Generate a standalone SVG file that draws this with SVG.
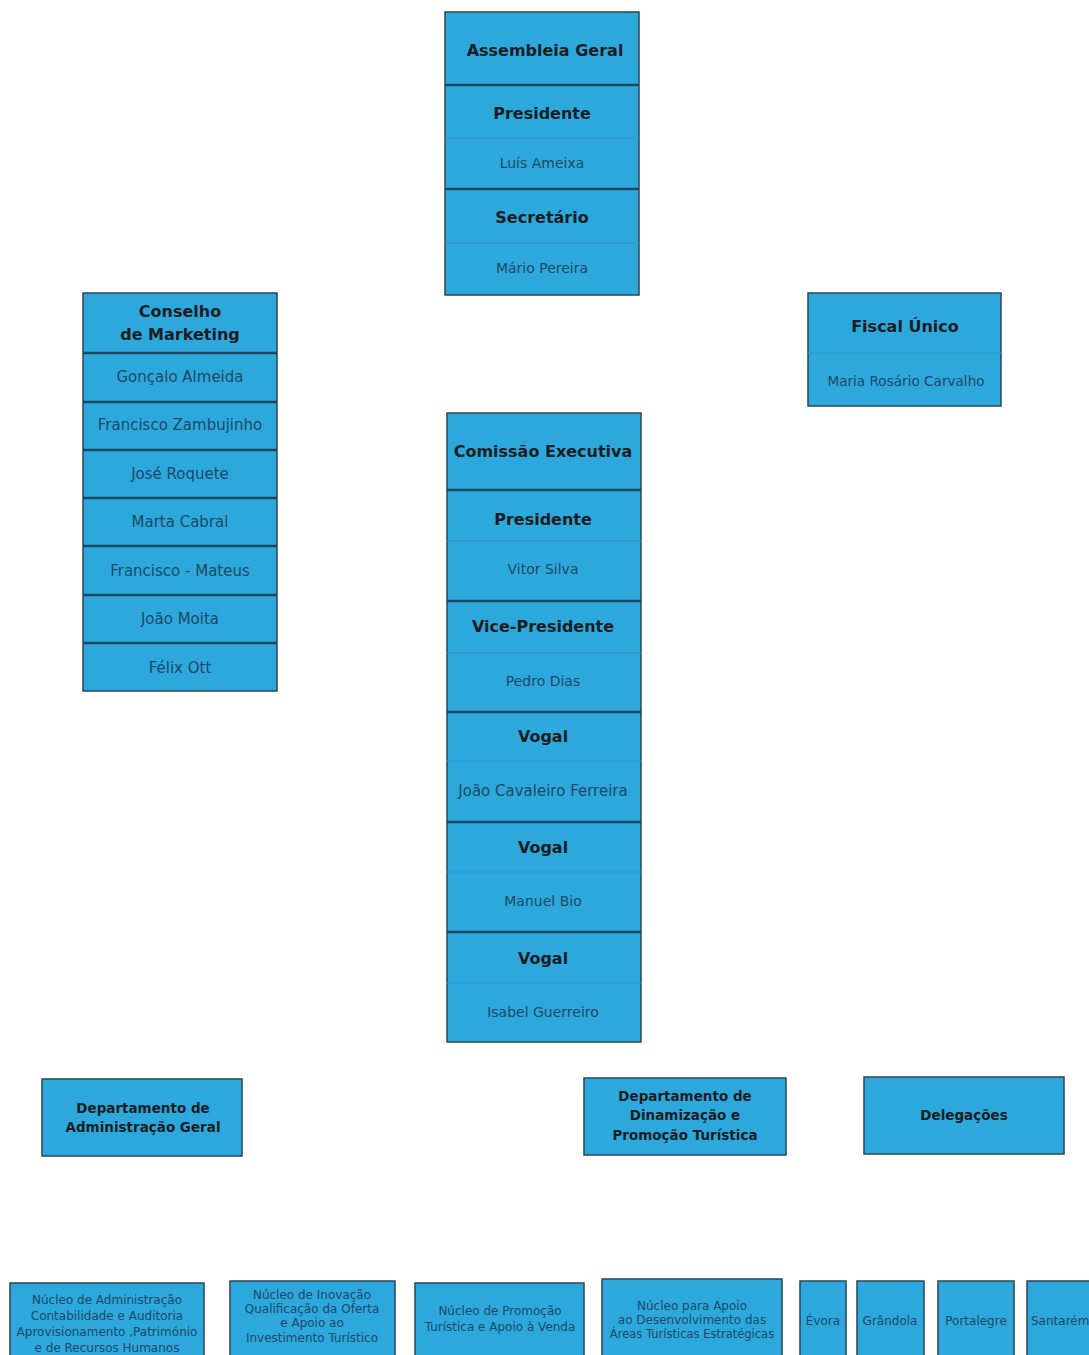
<svg xmlns="http://www.w3.org/2000/svg" width="1089" height="1355" viewBox="0 0 1089 1355">
<style>
.box{fill:#2ca8dc;stroke:#2b4656;stroke-width:1.5}
.thick{stroke:#1d4863;stroke-width:2.5}
.thin{stroke:#3b92bf;stroke-width:1}
.t{font-family:"DejaVu Sans","Liberation Sans",sans-serif;font-weight:bold;fill:#1b1d22;text-anchor:middle;dominant-baseline:central}
.t16{font-size:16px}
.t13{font-size:13.5px}
.n{font-family:"DejaVu Sans","Liberation Sans",sans-serif;fill:#1d4866;text-anchor:middle;dominant-baseline:central;font-size:15px}
.s{font-family:"DejaVu Sans","Liberation Sans",sans-serif;fill:#1d4866;text-anchor:middle;dominant-baseline:central;font-size:12px}
</style>
<rect width="1089" height="1355" fill="#ffffff"/>
<g id="connectors"></g>

<g id="assembleia">
<rect class="box" x="445" y="12" width="194" height="283"/>
<line class="thick" x1="445" y1="85" x2="639" y2="85"/>
<line class="thin" x1="445" y1="138" x2="639" y2="138"/>
<line class="thick" x1="445" y1="189" x2="639" y2="189"/>
<line class="thin" x1="445" y1="243" x2="639" y2="243"/>
<text class="t t16" x="545" y="50">Assembleia Geral</text>
<text class="t t16" x="542" y="113">Presidente</text>
<text class="n" x="542" y="163" style="font-size:14px">Luís Ameixa</text>
<text class="t t16" x="542" y="217">Secretário</text>
<text class="n" x="542" y="268" style="font-size:14px">Mário Pereira</text>
</g>

<g id="conselho">
<rect class="box" x="83" y="293" width="194" height="398"/>
<line class="thick" x1="83" y1="353" x2="277" y2="353"/>
<line class="thick" x1="83" y1="402" x2="277" y2="402"/>
<line class="thick" x1="83" y1="450" x2="277" y2="450"/>
<line class="thick" x1="83" y1="498" x2="277" y2="498"/>
<line class="thick" x1="83" y1="546" x2="277" y2="546"/>
<line class="thick" x1="83" y1="595" x2="277" y2="595"/>
<line class="thick" x1="83" y1="643" x2="277" y2="643"/>
<text class="t t16" x="180" y="311">Conselho</text>
<text class="t t16" x="180" y="334">de Marketing</text>
<text class="n" x="180" y="377">Gonçalo Almeida</text>
<text class="n" x="180" y="425">Francisco Zambujinho</text>
<text class="n" x="180" y="474">José Roquete</text>
<text class="n" x="180" y="522">Marta Cabral</text>
<text class="n" x="180" y="571">Francisco - Mateus</text>
<text class="n" x="180" y="619">João Moita</text>
<text class="n" x="180" y="668">Félix Ott</text>
</g>

<g id="fiscal">
<rect class="box" x="808" y="293" width="193" height="113"/>
<line class="thin" x1="808" y1="353" x2="1001" y2="353"/>
<text class="t t16" x="905" y="326">Fiscal Único</text>
<text class="n" x="906" y="381" style="font-size:13.6px">Maria Rosário Carvalho</text>
</g>

<g id="comissao">
<rect class="box" x="447" y="413" width="194" height="629"/>
<line class="thick" x1="447" y1="490" x2="641" y2="490"/>
<line class="thin" x1="447" y1="541" x2="641" y2="541"/>
<line class="thick" x1="447" y1="601" x2="641" y2="601"/>
<line class="thin" x1="447" y1="653" x2="641" y2="653"/>
<line class="thick" x1="447" y1="712" x2="641" y2="712"/>
<line class="thin" x1="447" y1="761" x2="641" y2="761"/>
<line class="thick" x1="447" y1="822" x2="641" y2="822"/>
<line class="thin" x1="447" y1="872" x2="641" y2="872"/>
<line class="thick" x1="447" y1="932" x2="641" y2="932"/>
<line class="thin" x1="447" y1="983" x2="641" y2="983"/>
<text class="t t16" x="543" y="451">Comissão Executiva</text>
<text class="t t16" x="543" y="519">Presidente</text>
<text class="n" x="543" y="569" style="font-size:14px">Vitor Silva</text>
<text class="t t16" x="543" y="626">Vice-Presidente</text>
<text class="n" x="543" y="681" style="font-size:14px">Pedro Dias</text>
<text class="t t16" x="543" y="736">Vogal</text>
<text class="n" x="543" y="791">João Cavaleiro Ferreira</text>
<text class="t t16" x="543" y="847">Vogal</text>
<text class="n" x="543" y="901" style="font-size:14px">Manuel Bio</text>
<text class="t t16" x="543" y="958">Vogal</text>
<text class="n" x="543" y="1012" style="font-size:14px">Isabel Guerreiro</text>
</g>

<g id="dept-admin">
<rect class="box" x="42" y="1079" width="200" height="77"/>
<text class="t t13" x="143" y="1108">Departamento de</text>
<text class="t t13" x="143" y="1127">Administração Geral</text>
</g>

<g id="dept-dinamizacao">
<rect class="box" x="584" y="1078" width="202" height="77"/>
<text class="t t13" x="685" y="1096">Departamento de</text>
<text class="t t13" x="685" y="1115">Dinamização e</text>
<text class="t t13" x="685" y="1135">Promoção Turística</text>
</g>

<g id="delegacoes">
<rect class="box" x="864" y="1077" width="200" height="77"/>
<text class="t t13" x="964" y="1115">Delegações</text>
</g>

<g id="nucleo-admin">
<rect class="box" x="10" y="1283" width="194" height="80"/>
<text class="s" x="107" y="1300">Núcleo de Administração</text>
<text class="s" x="107" y="1316">Contabilidade e Auditoria</text>
<text class="s" x="107" y="1332">Aprovisionamento ,Património</text>
<text class="s" x="107" y="1348">e de Recursos Humanos</text>
</g>

<g id="nucleo-inovacao">
<rect class="box" x="230" y="1281" width="165" height="82"/>
<text class="s" x="312" y="1295">Núcleo de Inovação</text>
<text class="s" x="312" y="1309">Qualificação da Oferta</text>
<text class="s" x="312" y="1323">e Apoio ao</text>
<text class="s" x="312" y="1338">Investimento Turístico</text>
</g>

<g id="nucleo-promocao">
<rect class="box" x="415" y="1283" width="169" height="80"/>
<text class="s" x="500" y="1311">Núcleo de Promoção</text>
<text class="s" x="500" y="1327">Turística e Apoio à Venda</text>
</g>

<g id="nucleo-apoio">
<rect class="box" x="602" y="1279" width="180" height="84"/>
<text class="s" x="692" y="1306">Núcleo para Apoio</text>
<text class="s" x="692" y="1320">ao Desenvolvimento das</text>
<text class="s" x="692" y="1334" style="font-size:11.5px">Áreas Turísticas Estratégicas</text>
</g>

<g id="evora">
<rect class="box" x="800" y="1281" width="46" height="82"/>
<text class="s" x="823" y="1321">Évora</text>
</g>

<g id="grandola">
<rect class="box" x="857" y="1281" width="67" height="82"/>
<text class="s" x="890" y="1321">Grândola</text>
</g>

<g id="portalegre">
<rect class="box" x="938" y="1281" width="76" height="82"/>
<text class="s" x="976" y="1321">Portalegre</text>
</g>

<g id="santarem">
<rect class="box" x="1027" y="1281" width="80" height="82"/>
<text class="s" x="1031" y="1321" style="text-anchor:start">Santarém</text>
</g>
</svg>
